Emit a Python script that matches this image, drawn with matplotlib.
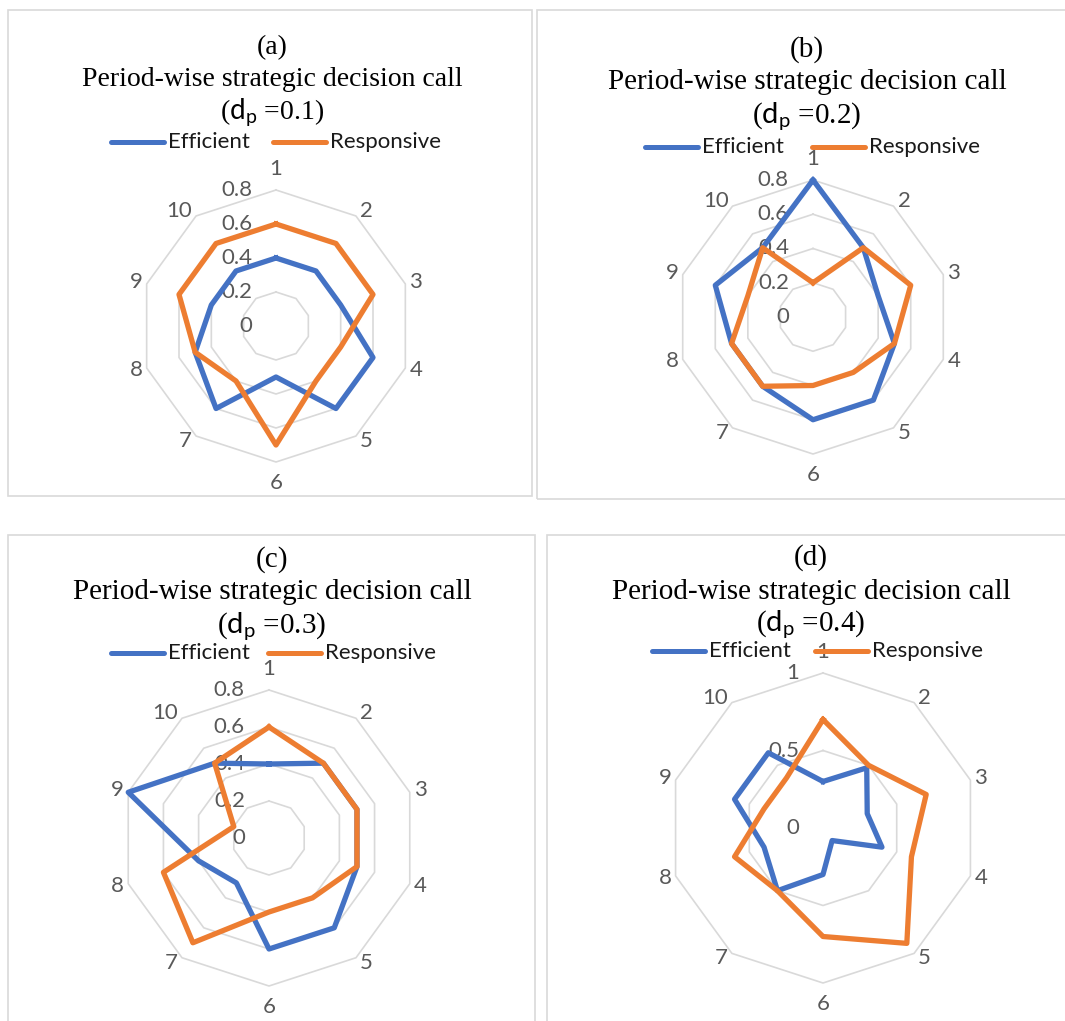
import numpy as np
import matplotlib
matplotlib.use("Agg")
import matplotlib.pyplot as plt
from matplotlib.lines import Line2D
from matplotlib.patches import Rectangle

plt.rcParams['mathtext.fontset'] = 'custom'
plt.rcParams['mathtext.sf'] = 'Lato'
plt.rcParams['mathtext.rm'] = 'Liberation Serif'

W, H = 1065, 1021

# data
periods = ['1', '2', '3', '4', '5', '6', '7', '8', '9', '10']
eff_a = [0.4, 0.4, 0.4, 0.6, 0.6, 0.3, 0.6, 0.5, 0.4, 0.4]
resp_a = [0.6, 0.6, 0.6, 0.4, 0.4, 0.7, 0.4, 0.5, 0.6, 0.6]
eff_b = [0.8, 0.5, 0.4, 0.5, 0.6, 0.6, 0.5, 0.5, 0.6, 0.5]
resp_b = [0.2, 0.5, 0.6, 0.5, 0.4, 0.4, 0.5, 0.5, 0.4, 0.5]
eff_c = [0.4, 0.5, 0.5, 0.5, 0.6, 0.6, 0.3, 0.4, 0.8, 0.5]
resp_c = [0.6, 0.5, 0.5, 0.5, 0.4, 0.4, 0.7, 0.6, 0.2, 0.5]
eff_d = [0.3, 0.48, 0.3, 0.4, 0.1, 0.3, 0.5, 0.4, 0.6, 0.6]
resp_d = [0.7, 0.5, 0.7, 0.6, 0.92, 0.7, 0.5, 0.6, 0.4, 0.4]

ticks_abc = [0, 0.2, 0.4, 0.6, 0.8]
tick_labels_abc = ['0', '0.2', '0.4', '0.6', '0.8']
ticks_d = [0, 0.5, 1.0]
tick_labels_d = ['0', '0.5', '1']

BLUE = '#4472C4'
ORANGE = '#ED7D31'
GRID = '#D9D9D9'
LABEL = '#595959'
SANS = 'Lato'
SERIF = 'Liberation Serif'

fig = plt.figure(figsize=(W / 100, H / 100), dpi=100)


def fx(x):
    return x / W


def fy(y):
    return 1 - y / H


def border(x0, y0, x1, y1):
    fig.patches.append(Rectangle((fx(x0), fy(y1)), (x1 - x0) / W, (y1 - y0) / H,
                                 transform=fig.transFigure, fill=False,
                                 edgecolor=GRID, lw=1.2))


def titles(cx, ys, letter, dp, size):
    fig.text(fx(cx), fy(ys[0]), letter, family=SERIF, size=size, ha='center', va='center')
    fig.text(fx(cx), fy(ys[1]), 'Period-wise strategic decision call', family=SERIF,
             size=size, ha='center', va='center')
    fig.text(fx(cx), fy(ys[2]), r'($\mathsf{d}_\mathsf{p}$ =' + dp + ')', family=SERIF,
             size=size, ha='center', va='center')


def legend(y, xb, xo):
    for x0, col, name in [(xb, BLUE, 'Efficient'), (xo, ORANGE, 'Responsive')]:
        fig.lines.append(Line2D([fx(x0), fx(x0 + 53)], [fy(y), fy(y)], transform=fig.transFigure,
                                color=col, lw=3.6, solid_capstyle='round'))
        fig.text(fx(x0 + 57), fy(y), name, family=SANS, size=16, ha='left', va='center',
                 color='#1a1a1a')


def radar(cx, cy, R, ticks, tick_labels, eff, resp):
    ax = fig.add_axes([fx(cx - R), fy(cy + R), 2 * R / W, 2 * R / H], projection='polar')
    ax.set_theta_offset(np.pi / 2)
    ax.set_theta_direction(-1)
    rmax = ticks[-1]
    ax.set_ylim(0, rmax)
    ax.axis('off')
    theta = np.arange(len(periods)) * 2 * np.pi / len(periods)
    tc = np.append(theta, theta[0])
    for lvl in ticks[1:]:
        ax.plot(tc, [lvl] * len(tc), color=GRID, lw=1.2, zorder=1, clip_on=False)
    for lvl, lab in zip(ticks, tick_labels):
        ax.annotate(lab, (0, lvl), xytext=(-24, 0), textcoords='offset pixels',
                    ha='right', va='center', family=SANS, size=16, color=LABEL, zorder=2)
    for t, lab in zip(theta, periods):
        ux, uy = np.sin(t), np.cos(t)
        if abs(ux) < 0.1:
            ha, off = 'center', (0, 21 * np.sign(uy))
        elif ux > 0:
            ha, off = 'left', (4, 6 * uy)
        else:
            ha, off = 'right', (-4, 6 * uy)
        ax.annotate(lab, (t, rmax), xytext=off, textcoords='offset pixels',
                    ha=ha, va='center', family=SANS, size=16, color=LABEL)
    for vals, col in [(eff, BLUE), (resp, ORANGE)]:
        ax.plot(tc, vals + vals[:1], color=col, lw=3.8, zorder=5, clip_on=False,
                solid_joinstyle='round')


# (a)
border(8, 10, 532, 496)
titles(272, [48, 80, 113], '(a)', '0.1', 20)
legend(142, 111, 273)
radar(276, 326, 136, ticks_abc, tick_labels_abc, eff_a, resp_a)

# (b)
border(537, 10, 1075, 499)
titles(807, [50, 82, 117], '(b)', '0.2', 21)
legend(147, 645, 812)
radar(813, 317, 137, ticks_abc, tick_labels_abc, eff_b, resp_b)

# (c)
border(8, 535, 535, 1030)
titles(272, [560, 592, 627], '(c)', '0.3', 21)
legend(653, 111, 268)
radar(269, 838, 148, ticks_abc, tick_labels_abc, eff_c, resp_c)

# (d)
border(547, 535, 1075, 1030)
titles(811, [558, 592, 625], '(d)', '0.4', 21)
legend(651, 652, 815)
radar(823, 828, 155, ticks_d, tick_labels_d, eff_d, resp_d)

fig.savefig('out.png', dpi=100)
